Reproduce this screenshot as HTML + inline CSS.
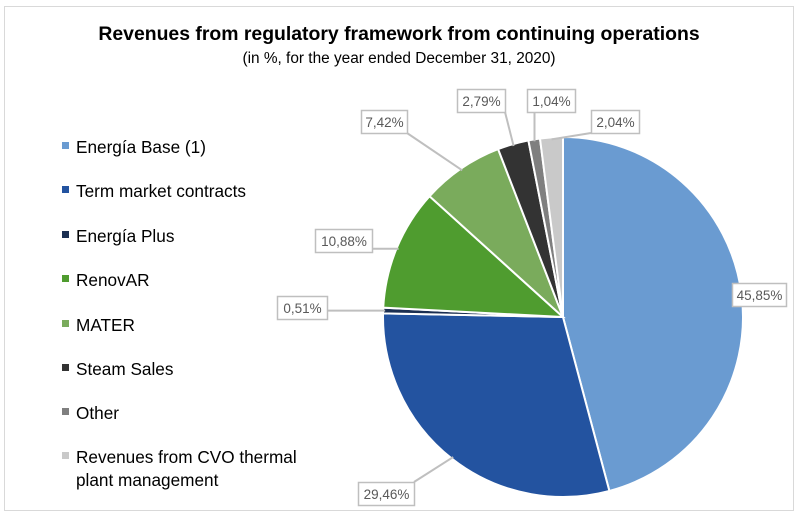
<!DOCTYPE html>
<html><head><meta charset="utf-8"><style>
body{margin:0;background:#fff;}
svg{display:block;font-family:"Liberation Sans",sans-serif;}
</style></head><body>
<svg id="c" width="797" height="512">
<rect x="4.5" y="6.5" width="789" height="504" fill="#fff" stroke="#d9d9d9"/>
<text x="399" y="40" text-anchor="middle" font-size="19.4" font-weight="bold" fill="#000">Revenues from regulatory framework from continuing operations</text>
<text x="399" y="63" text-anchor="middle" font-size="15.4" fill="#000">(in %, for the year ended December 31, 2020)</text>
<g id="slices"></g><g id="leaders"></g><g id="labels"></g><g id="legend"></g>
</svg>
<script>
const categories=["Energía Base (1)","Term market contracts","Energía Plus","RenovAR","MATER","Steam Sales","Other","Revenues from CVO thermal plant management"];
const values=[45.85,29.46,0.51,10.88,7.42,2.79,1.04,2.04];
const valueLabels=["45,85%","29,46%","0,51%","10,88%","7,42%","2,79%","1,04%","2,04%"];
const colors=["#6a9bd1","#2353a0","#1b2f52","#4f9c2f","#7aab5c","#333333","#7f7f7f","#c9c9c9"];
const labelBox=[[732,283,54],[358,482,56],[277,296,50],[315,229,57],[361,110,46],[457,89,48],[527,89,48],[591,110,48]];
const cx=563,cy=317,R=180;
const NS="http://www.w3.org/2000/svg";
const total=values.reduce((a,b)=>a+b,0);
function pt(a,r){return [cx+r*Math.sin(a),cy-r*Math.cos(a)];}
const gS=document.getElementById('slices'),gL=document.getElementById('leaders'),gT=document.getElementById('labels'),gG=document.getElementById('legend');
let acc=0;
values.forEach((v,i)=>{
 const a0=acc/total*2*Math.PI; acc+=v; const a1=acc/total*2*Math.PI;
 const p0=pt(a0,R),p1=pt(a1,R);
 const path=document.createElementNS(NS,'path');
 path.setAttribute('d',`M${cx},${cy}L${p0[0]},${p0[1]}A${R},${R} 0 ${a1-a0>Math.PI?1:0} 1 ${p1[0]},${p1[1]}Z`);
 path.setAttribute('fill',colors[i]);path.setAttribute('stroke','#fff');path.setAttribute('stroke-width','2');
 
 
 gS.appendChild(path);
 const am=(a0+a1)/2, pm=pt(am,R-2);
 const [bx,by,bw]=labelBox[i], bh=23;
 const tx=Math.min(Math.max(pm[0],bx),bx+bw), ty=Math.min(Math.max(pm[1],by),by+bh);
 if(Math.hypot(tx-pm[0],ty-pm[1])>4){
  const ln=document.createElementNS(NS,'line');
  ln.setAttribute('x1',pm[0]);ln.setAttribute('y1',pm[1]);ln.setAttribute('x2',tx);ln.setAttribute('y2',ty);
  ln.setAttribute('stroke','#bfbfbf');ln.setAttribute('stroke-width','2');
  
  
  gL.appendChild(ln);
 }
 const r=document.createElementNS(NS,'rect');
 r.setAttribute('x',bx+0.5);r.setAttribute('y',by+0.5);r.setAttribute('width',bw);r.setAttribute('height',bh);
 r.setAttribute('fill','#fff');r.setAttribute('stroke','#bfbfbf');r.setAttribute('stroke-width','1.5');
 
 
 gT.appendChild(r);
 const t=document.createElementNS(NS,'text');
 t.setAttribute('x',bx+bw/2+0.5);t.setAttribute('y',by+17);t.setAttribute('text-anchor','middle');
 t.setAttribute('font-size','13.5');t.setAttribute('fill','#595959');t.textContent=valueLabels[i];
 
 
 gT.appendChild(t);
 const ly=[147,191,236,280,325,369,413,457][i];
 const m=document.createElementNS(NS,'rect');
 m.setAttribute('x',62);m.setAttribute('y',ly-5);m.setAttribute('width',7);m.setAttribute('height',7);m.setAttribute('fill',colors[i]);
 
 
 gG.appendChild(m);
 const lt=document.createElementNS(NS,'text');
 lt.setAttribute('x',76);lt.setAttribute('y',ly+6);lt.setAttribute('font-size','17.2');lt.setAttribute('fill','#000');
 
 
 if(i===7){
  lt.innerHTML='<tspan x="76">Revenues from CVO thermal</tspan><tspan x="76" dy="23">plant management</tspan>';
 } else lt.textContent=categories[i];
 gG.appendChild(lt);
});
</script>
</body></html>
